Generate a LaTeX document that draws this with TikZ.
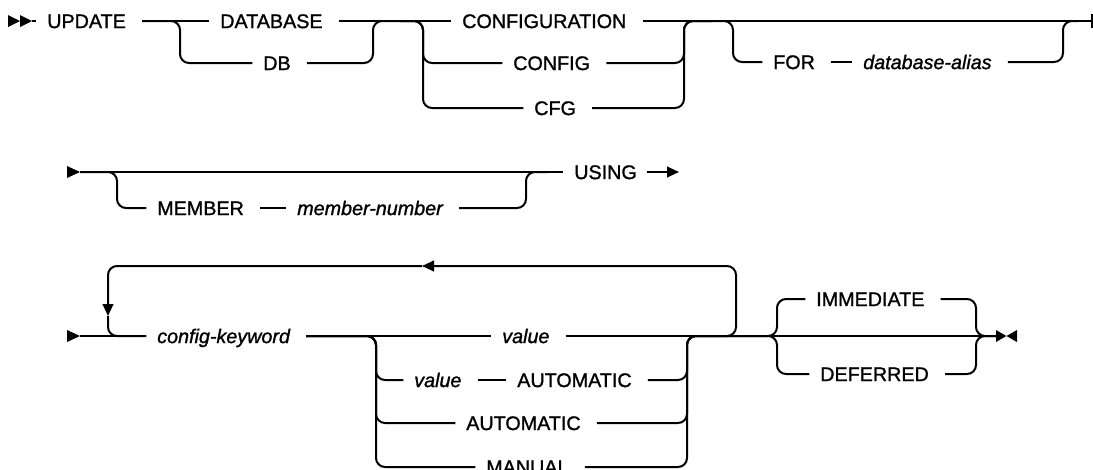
\documentclass[tikz,border=0pt]{standalone}
\usepackage{fontspec}
\setmainfont{Liberation Sans}[RawFeature={embolden=1.2}]
\usetikzlibrary{arrows.meta}

\begin{document}
\begin{tikzpicture}[
  x=0.75pt, y=-0.75pt,
  font=\fontsize{14.8pt}{17pt}\selectfont,
  kw/.style={anchor=west, inner sep=0pt, text height=10.6pt, text depth=0pt},
  var/.style={kw, font=\fontsize{14.8pt}{17pt}\selectfont\itshape},
  rail/.style={line width=1.5pt, rounded corners=6.75pt},
  link/.style={rail, shorten <=12pt, shorten >=8pt},
  leave/.style={rail, shorten <=12pt},
  enter/.style={rail, shorten >=8pt},
  tip/.style={-{Triangle[length=9pt,width=8pt]}}
]
\useasboundingbox (0,0) rectangle (1093,469);
\clip (0,0) rectangle (1093,469);

\coordinate (r1) at (32,21);
\coordinate (j1) at (400,21);
\coordinate (j2) at (712,21);
\coordinate (j3) at (1078,21);
\coordinate (r1e) at (1092,21);
\node[kw] (update) at (47,21) {UPDATE};
\node[kw] (database) at (220,21) {DATABASE};
\node[kw] (db) at (263,63) {DB};
\node[kw] (configuration) at (462,21) {CONFIGURATION};
\node[kw] (config) at (513,63) {CONFIG};
\node[kw] (cfg) at (534,108) {CFG};
\node[kw] (for) at (773,62) {FOR};
\node[var] (dbalias) at (863,62) {database-alias};

\fill (8,15) -- (20,21) -- (8,27) -- cycle;
\fill (20,15) -- (32,21) -- (20,27) -- cycle;
\draw[enter] (r1) -- (update.west);
\draw[link] (update.east) -- (database.west);
\draw[link] (update.east) -- (180,21) -- (180,63) -- (db.west);
\draw[leave] (database.east) -- (j1);
\draw[leave] (db.east) -- (373,63) -- (373,21) -- (j1);
\draw[enter] (j1) -- (configuration.west);
\draw[enter] (j1) -- (423,21) -- (423,63) -- (config.west);
\draw[enter] (j1) -- (423,21) -- (423,108) -- (cfg.west);
\draw[leave] (configuration.east) -- (j2);
\draw[leave] (config.east) -- (684,63) -- (684,21) -- (j2);
\draw[leave] (cfg.east) -- (684,108) -- (684,21) -- (j2);
\draw[rail] (j2) -- (r1e);
\draw[enter] (j2) -- (733,21) -- (733,62) -- (for.west);
\draw[link] (for.east) -- (dbalias.west);
\draw[leave] (dbalias.east) -- (1063,62) -- (1063,21) -- (j3);
\draw[rail] (r1e) ++(0,-7) -- ++(0,14);

\coordinate (r2) at (80,172);
\coordinate (j4) at (548,172);
\coordinate (r2e) at (679,172);
\node[kw] (member) at (157,208) {MEMBER};
\node[var] (membernum) at (297,208) {member-number};
\node[kw] (using) at (574,172) {USING};

\fill (67,166) -- (80,172) -- (67,178) -- cycle;
\draw[enter] (r2) -- (using.west);
\draw[enter] (r2) -- (117,172) -- (117,208) -- (member.west);
\draw[link] (member.east) -- (membernum.west);
\draw[leave] (membernum.east) -- (526,208) -- (526,172) -- (j4);
\draw[rail, shorten <=7.5pt, tip] (using.east) -- (r2e);

\coordinate (r3) at (80,336);
\coordinate (j5) at (712,336);
\coordinate (r3e) at (996,336);
\coordinate (lp1) at (422,266);
\coordinate (lp2) at (108,316);
\node[var] (ckey) at (157,336) {config-keyword};
\node[var] (value) at (502,336) {value};
\node[var] (value2) at (414,380) {value};
\node[kw] (auto1) at (517,380) {AUTOMATIC};
\node[kw] (auto2) at (466,423) {AUTOMATIC};
\node[kw] (manual) at (486,467) {MANUAL};
\node[kw] (immediate) at (816,299) {IMMEDIATE};
\node[kw] (deferred) at (820,374) {DEFERRED};

\fill (67,330) -- (80,336) -- (67,342) -- cycle;
\draw[enter] (r3) -- (ckey.west);
\draw[rail, tip] (j5) -- (736,336) -- (736,266) -- (lp1);
\draw[rail, tip] (lp1) -- (108,266) -- (lp2);
\draw[enter] (lp2) -- (108,336) -- (ckey.west);
\draw[link] (ckey.east) -- (value.west);
\draw[link] (ckey.east) -- (376,336) -- (376,380) -- (value2.west);
\draw[link] (ckey.east) -- (376,336) -- (376,423) -- (auto2.west);
\draw[link] (ckey.east) -- (376,336) -- (376,467) -- (manual.west);
\draw[link] (value2.east) -- (auto1.west);
\draw[leave] (value.east) -- (j5);
\draw[leave] (auto1.east) -- (687,380) -- (687,336) -- (j5);
\draw[leave] (auto2.east) -- (687,423) -- (687,336) -- (j5);
\draw[leave] (manual.east) -- (687,467) -- (687,336) -- (j5);
\draw[rail] (j5) -- (r3e);
\draw[enter] (j5) -- (777,336) -- (777,299) -- (immediate.west);
\draw[enter] (j5) -- (777,336) -- (777,374) -- (deferred.west);
\draw[leave] (immediate.east) -- (976,299) -- (976,336) -- (r3e);
\draw[leave] (deferred.east) -- (976,374) -- (976,336) -- (r3e);
\fill (996,330) -- (1006.5,336) -- (996,342) -- cycle;
\fill (1017,330) -- (1006.5,336) -- (1017,342) -- cycle;
\end{tikzpicture}
\end{document}
